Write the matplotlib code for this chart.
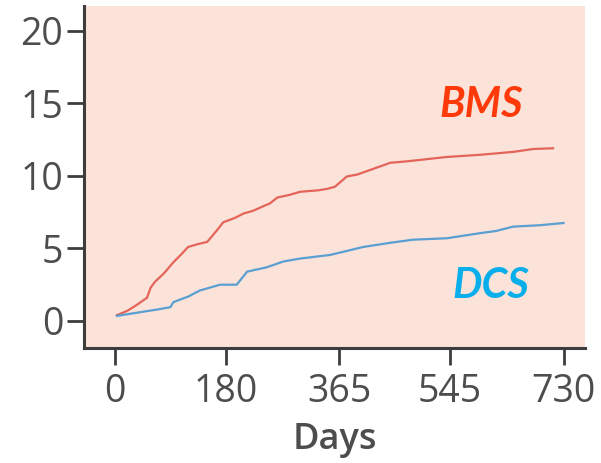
import numpy as np
import matplotlib
matplotlib.use('Agg')
import matplotlib.pyplot as plt

# cumulative incidence (%)
bms_days = [3, 20, 35, 52, 58, 65, 80, 94, 108, 119, 135, 150, 165, 176, 195, 209, 225, 241,
            252, 264, 285, 301, 330, 345, 358, 377, 395, 415, 448, 475, 497, 540, 594, 648, 681, 713]
bms_vals = [0.4, 0.7, 1.1, 1.6, 2.3, 2.7, 3.3, 4.0, 4.6, 5.1, 5.3, 5.45, 6.2, 6.8, 7.1, 7.4, 7.6, 7.9,
            8.1, 8.5, 8.7, 8.9, 9.0, 9.1, 9.25, 9.95, 10.1, 10.4, 10.9, 11.0, 11.1, 11.3, 11.45, 11.65, 11.85, 11.9]

dcs_days = [3, 40, 70, 90, 95, 120, 138, 171, 198, 215, 247, 274, 301, 350, 404, 450,
            485, 540, 594, 620, 648, 692, 730]
dcs_vals = [0.35, 0.6, 0.8, 0.95, 1.3, 1.7, 2.1, 2.5, 2.5, 3.4, 3.7, 4.1, 4.3, 4.55, 5.1, 5.4,
            5.6, 5.7, 6.05, 6.2, 6.5, 6.6, 6.75]

x_ticks = [0, 180, 365, 545, 730]
y_ticks = [0, 5, 10, 15, 20]

plt.rcParams['font.family'] = ['Open Sans', 'DejaVu Sans']

fig = plt.figure(figsize=(6.01, 4.63), dpi=100)
ax = fig.add_axes([0.1398, 0.2484, 0.8336, 0.7386])
ax.set_facecolor('#fbe3d9')

ax.plot(bms_days, bms_vals, color='#e4645a', lw=1.6)
ax.plot(dcs_days, dcs_vals, color='#5a9fd2', lw=1.6)

ax.text(596, 14.07, 'BMS', color='#ff3a0a', fontsize=30, fontweight='bold', style='italic',
        family=['Lato', 'DejaVu Sans'], ha='center', va='baseline')
ax.text(612, 1.59, 'DCS', color='#0aaeea', fontsize=30, fontweight='bold', style='italic',
        family=['Lato', 'DejaVu Sans'], ha='center', va='baseline')

ax.set_xlim(-50.5, 765)
ax.set_ylim(-1.86, 21.7)
ax.set_xticks(x_ticks)
ax.set_yticks(y_ticks)

for s in ['top', 'right']:
    ax.spines[s].set_visible(False)
for s in ['left', 'bottom']:
    ax.spines[s].set_color('#3d3d3d')
    ax.spines[s].set_linewidth(2.2)

ax.tick_params(axis='both', colors='#3d3d3d', length=12, width=2, labelsize=27,
               labelcolor='#4d4d4d')
ax.tick_params(axis='x', pad=6)
ax.tick_params(axis='y', pad=3)
ax.set_xlabel('Days', fontsize=26, fontweight='semibold', color='#4d4d4d', labelpad=8)

fig.savefig('out.png', dpi=100, facecolor='white')
